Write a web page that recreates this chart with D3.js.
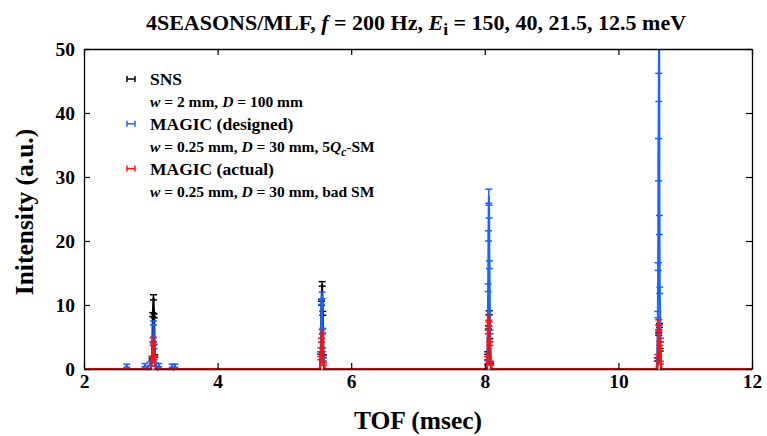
<!DOCTYPE html>
<html><head><meta charset="utf-8">
<script src="https://cdn.jsdelivr.net/npm/d3@7"></script>
<style>
html,body{margin:0;padding:0;background:#fff;}
text{font-family:"Liberation Serif","Times New Roman",serif;font-weight:bold;}
</style></head>
<body><svg id="c" width="767" height="436"></svg>
<script>
// ---- data ----
const xTicks = [2, 4, 6, 8, 10, 12];
const yTicks = [0, 10, 20, 30, 40, 50];

const snsTOF = [2.0, 3.00, 3.02, 3.03, 3.04, 3.05, 3.06, 3.08, 5.53, 5.545, 5.555, 5.565, 5.575, 5.585, 5.60, 8.03, 8.045, 8.055, 8.065, 8.075, 8.085, 8.10, 10.58, 10.595, 10.605, 10.615, 10.625, 10.64, 12.0];
const snsI   = [0,   0,    1.5,  8.5,  11.2, 8.3,  2.0,  0,    0,    2.5,   10.3,  13.3,  8.7,   2.0,   0,    0,    2.5,   6.5,   8.8,   4.5,   1.0,   0,    0,     1.5,    5.5,    6.8,    3.0,    0,     0];
const snsE   = [0,   0,    0.2,  0.3,  0.4,  0.3,  0.2,  0,    0,    0.2,   0.3,   0.35,  0.3,   0.2,   0,    0,    0.2,   0.25,  0.3,   0.25,  0.15,  0,    0,     0.2,    0.25,   0.3,    0.2,    0,     0];

const desTOF = [2.0, 2.60, 2.64, 2.68, 2.88, 2.91, 2.95, 2.99, 3.02, 3.035, 3.04, 3.05, 3.07, 3.10, 3.12, 3.15, 3.29, 3.32, 3.34, 3.36, 3.39, 5.53, 5.545, 5.555, 5.565, 5.575, 5.585, 5.60, 8.03, 8.04, 8.05, 8.055, 8.06, 8.065, 8.07, 8.08, 8.09, 8.10, 10.57, 10.58, 10.59, 10.595, 10.60, 10.605, 10.61, 10.615, 10.62, 10.63, 10.645, 12.0];
const desI   = [0,   0,    0.5,  0,    0,    0.6,  0,    0.8,  1.7,  4.5,   7.2,  3.5,  0.7,  0,    0.6,  0,    0,    0.5,  0,    0.5,  0,    0,    3.0,   10.5,  11.5,  6.0,   1.5,   0,    0,    1.0,  12.7, 20.8,  27.0, 24.6,  16.3, 5.8,  0.9,  0,    0,     1.5,   8.5,   16.0,   32.7,  44.0,   58.0,  22.5,   12.3,  4.5,   0,      0];
const desE   = [0,   0,    0.25, 0,    0,    0.25, 0,    0.3,  0.3,  0.4,   0.3,  0.35, 0.25, 0,    0.25, 0,    0,    0.25, 0,    0.25, 0,    0,    0.3,   0.4,   0.5,   0.35,  0.25,  0,    0,    0.3,  0.6,  0.8,   1.1,  1.0,   0.6,  0.3,  0.3,  0,    0,     0.3,   0.5,   0.6,    3.3,   2.2,    4.0,   1.5,    0.5,   0.3,   0,      0];

const actTOF = [2.0, 3.00, 3.02, 3.035, 3.04, 3.05, 3.07, 5.53, 5.545, 5.555, 5.565, 5.575, 5.585, 5.60, 8.03, 8.04, 8.05, 8.06, 8.065, 8.075, 8.085, 8.10, 10.575, 10.59, 10.60, 10.605, 10.61, 10.62, 10.63, 10.645, 12.0];
const actI   = [0,   0,    1.7,  4.0,   4.6,  1.7,  0,    0,    1.7,   4.5,   5.8,   3.0,   0.8,   0,    0,    1.7,  5.8,  8.0,  7.0,   4.0,   0.9,   0,    0,      2.0,   5.8,   7.3,   6.5,   4.0,   1.0,   0,      0];
const actE   = [0,   0,    0.25, 0.3,   0.35, 0.25, 0,    0,    0.25,  0.3,   0.35,  0.3,   0.2,   0,    0,    0.25, 0.3,  0.4,  0.35,  0.3,   0.2,   0,    0,      0.25,  0.3,   0.4,   0.35,  0.3,   0.2,   0,      0];

const seriesNames = ["SNS", "MAGIC (designed)", "MAGIC (actual)"];
const seriesColors = ["#000000", "#1566ff", "#ff1010"];

// ---- layout ----
const svg = d3.select("#c");
const L = 84, R = 752, T = 49, B = 369;
const x = d3.scaleLinear().domain([2, 12]).range([L, R]);
const y = d3.scaleLinear().domain([0, 50]).range([B, T]);

svg.append("defs").append("clipPath").attr("id", "clip")
  .append("rect").attr("x", L - 4).attr("y", T).attr("width", R - L + 4).attr("height", B - T + 3);

const series = [
  {tof: snsTOF, I: snsI, E: snsE, color: seriesColors[0]},
  {tof: desTOF, I: desI, E: desE, color: seriesColors[1]},
  {tof: actTOF, I: actI, E: actE, color: seriesColors[2]}
];

const plot = svg.append("g").attr("clip-path", "url(#clip)");
const line = d3.line().x(d => x(d[0])).y(d => y(d[1]));
const capW = 3.5;
series.forEach(s => {
  const pts = s.tof.map((t, i) => [t, s.I[i], s.E[i]]);
  const g = plot.append("g");
  g.append("path").datum(pts).attr("d", line)
    .attr("fill", "none").attr("stroke", s.color).attr("stroke-width", 2);
  const eb = g.selectAll("g.eb").data(pts.filter(p => p[2] > 0)).enter().append("g");
  eb.append("line").attr("x1", d => x(d[0])).attr("x2", d => x(d[0]))
    .attr("y1", d => y(d[1] - d[2])).attr("y2", d => y(d[1] + d[2]))
    .attr("stroke", s.color).attr("stroke-width", 1.5);
  [-1, 1].forEach(k => {
    eb.append("line").attr("x1", d => x(d[0]) - capW).attr("x2", d => x(d[0]) + capW)
      .attr("y1", d => y(d[1] + k * d[2])).attr("y2", d => y(d[1] + k * d[2]))
      .attr("stroke", s.color).attr("stroke-width", 1.5);
  });
});

// ---- axes ----
const fontTick = 19.5;
const ax = svg.append("g").attr("transform", `translate(0,${B})`)
  .call(d3.axisBottom(x).tickValues(xTicks).tickSizeInner(-6).tickSizeOuter(0).tickPadding(5).tickFormat(d3.format("d")));
const ay = svg.append("g").attr("transform", `translate(${L},0)`)
  .call(d3.axisLeft(y).tickValues(yTicks).tickSizeInner(-6).tickSizeOuter(0).tickPadding(9).tickFormat(d3.format("d")));
const at = svg.append("g").attr("transform", `translate(0,${T})`)
  .call(d3.axisTop(x).tickValues(xTicks).tickSizeInner(-6).tickSizeOuter(0).tickFormat(""));
const ar = svg.append("g").attr("transform", `translate(${R},0)`)
  .call(d3.axisRight(y).tickValues(yTicks).tickSizeInner(-6).tickSizeOuter(0).tickFormat(""));
[ax, ay, at, ar].forEach(a => {
  a.select(".domain").attr("stroke", "#000").attr("stroke-width", 1.3);
  a.selectAll(".tick line").attr("stroke", "#000").attr("stroke-width", 1.2);
  a.selectAll(".tick text").attr("font-size", fontTick).attr("fill", "#000")
    .attr("font-family", "Liberation Serif, serif").attr("font-weight", "bold");
});
ax.select(".domain").attr("stroke-opacity", 0.55).attr("stroke-width", 2);

// ---- labels ----
svg.append("text").attr("x", 418).attr("y", 429).attr("text-anchor", "middle")
  .attr("font-size", 25.5).text("TOF (msec)");
svg.append("text").attr("transform", "translate(33,212) rotate(-90)").attr("text-anchor", "middle")
  .attr("font-size", 25.5).text("Initensity (a.u.)");

const title = svg.append("text").attr("x", 416).attr("y", 30).attr("text-anchor", "middle")
  .attr("font-size", 22);
title.append("tspan").text("4SEASONS/MLF, ");
title.append("tspan").attr("font-style", "italic").text("f");
title.append("tspan").text(" = 200 Hz, ");
title.append("tspan").attr("font-style", "italic").text("E");
title.append("tspan").attr("dy", 5).attr("font-size", 17.5).text("i");
title.append("tspan").attr("dy", -5).text(" = 150, 40, 21.5, 12.5 meV");

// ---- legend ----
const legY0 = 79, legDy = 22.4, legSymX = 131, legTxtX = 150;
const leg = svg.append("g");
const legendLines = [
  [{t: seriesNames[0]}],
  [{t: "w", i: true}, {t: " = 2 mm, "}, {t: "D", i: true}, {t: " = 100 mm"}],
  [{t: seriesNames[1]}],
  [{t: "w", i: true}, {t: " = 0.25 mm, "}, {t: "D", i: true}, {t: " = 30 mm, 5"}, {t: "Q", i: true}, {t: "c", i: true, sub: true}, {t: "-SM", unsub: true}],
  [{t: seriesNames[2]}],
  [{t: "w", i: true}, {t: " = 0.25 mm, "}, {t: "D", i: true}, {t: " = 30 mm, bad SM"}]
];
legendLines.forEach((parts, li) => {
  const ty = legY0 + li * legDy;
  const tx = leg.append("text").attr("x", legTxtX).attr("y", ty + 6)
    .attr("font-size", li % 2 === 1 ? 15.5 : 17.5);
  parts.forEach(p => {
    const sp = tx.append("tspan").text(p.t);
    if (p.i) sp.attr("font-style", "italic");
    if (p.sub) sp.attr("dy", 4).attr("font-size", 11.5);
    if (p.unsub) sp.attr("dy", -4);
  });
  if (li % 2 === 0) {
    const c = seriesColors[li / 2];
    leg.append("line").attr("x1", legSymX - 4).attr("x2", legSymX + 4).attr("y1", ty).attr("y2", ty).attr("stroke", c).attr("stroke-width", 1.5);
    leg.append("line").attr("x1", legSymX - 4).attr("x2", legSymX - 4).attr("y1", ty - 3).attr("y2", ty + 3).attr("stroke", c).attr("stroke-width", 1.5);
    leg.append("line").attr("x1", legSymX + 4).attr("x2", legSymX + 4).attr("y1", ty - 3).attr("y2", ty + 3).attr("stroke", c).attr("stroke-width", 1.5);
  }
});
</script></body></html>
